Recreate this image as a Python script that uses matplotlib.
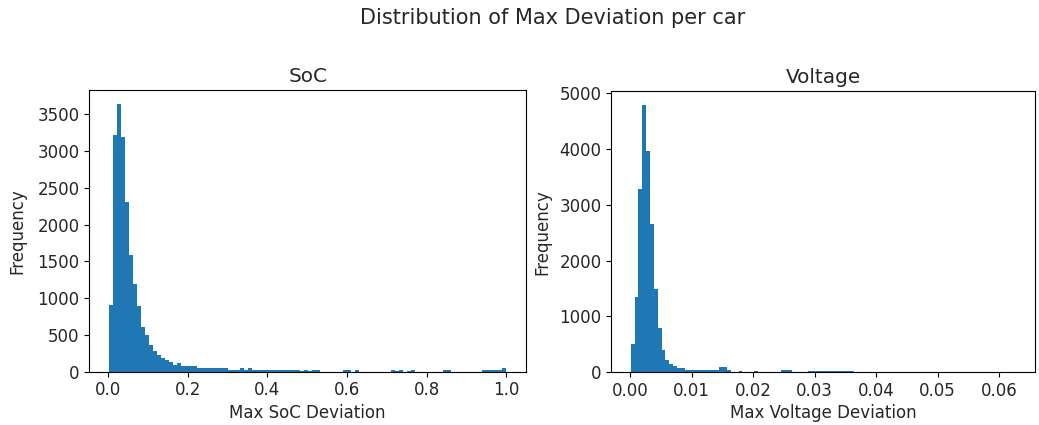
import numpy as np
import matplotlib
matplotlib.use('Agg')
import matplotlib.pyplot as plt

# bin counts (100 equal bins each)
soc_range = (0.0025, 1.0)
soc_counts = [914, 3225, 3646, 3194, 2310, 1585, 1200, 891, 610, 497,
              370, 279, 224, 188, 156, 136, 91, 114, 77, 77,
              77, 77, 54, 54, 54, 54, 54, 54, 54, 54,
              23, 23, 23, 54, 23, 54, 23, 23, 23, 23,
              23, 23, 23, 23, 23, 23, 23, 23, 8, 23,
              5, 23, 23, 0, 0, 0, 0, 0, 0, 23,
              23, 0, 23, 0, 0, 0, 0, 0, 0, 0,
              0, 23, 10, 23, 0, 10, 23, 0, 0, 0,
              0, 0, 0, 0, 23, 23, 0, 0, 0, 0,
              0, 0, 0, 0, 23, 23, 23, 23, 23, 54]

volt_range = (0.0001, 0.0627)
volt_counts = [514, 1344, 3285, 4797, 3961, 2665, 1493, 794, 394, 227,
               149, 107, 72, 72, 35, 35, 35, 35, 35, 35,
               35, 35, 35, 102, 102, 35, 0, 0, 30, 0,
               0, 0, 25, 0, 0, 0, 0, 0, 0, 35,
               35, 35, 0, 0, 0, 0, 30, 30, 30, 30,
               30, 30, 30, 30, 30, 30, 30, 30, 0, 0,
               0, 0, 0, 0, 0, 0, 0, 0, 0, 0,
               0, 0, 0, 0, 0, 0, 0, 0, 0, 0,
               0, 0, 0, 0, 0, 0, 0, 0, 0, 0,
               0, 0, 0, 0, 0, 0, 0, 0, 0, 1]

plt.rcParams['font.size'] = 12
plt.rcParams['text.color'] = '#262626'
plt.rcParams['axes.labelcolor'] = '#262626'
plt.rcParams['xtick.labelcolor'] = '#262626'
plt.rcParams['ytick.labelcolor'] = '#262626'

fig = plt.figure(figsize=(10.39, 4.25), dpi=100)
ax1 = fig.add_axes([0.0860, 0.1254, 0.4202, 0.6621])
ax2 = fig.add_axes([0.5885, 0.1240, 0.4077, 0.6614])

def draw(ax, counts, rng, title, xlabel, pad):
    edges = np.linspace(rng[0], rng[1], len(counts) + 1)
    ax.hist(edges[:-1], bins=edges, weights=counts)
    ax.set_title(title)
    ax.set_xlabel(xlabel, labelpad=3)
    ax.set_ylabel('Frequency', labelpad=pad)

draw(ax1, soc_counts, soc_range, 'SoC', 'Max SoC Deviation', 8)
draw(ax2, volt_counts, volt_range, 'Voltage', 'Max Voltage Deviation', 6)

fig.suptitle('Distribution of Max Deviation per car', x=0.532, y=0.98, fontsize=15)

fig.savefig('out.png', dpi=100)
